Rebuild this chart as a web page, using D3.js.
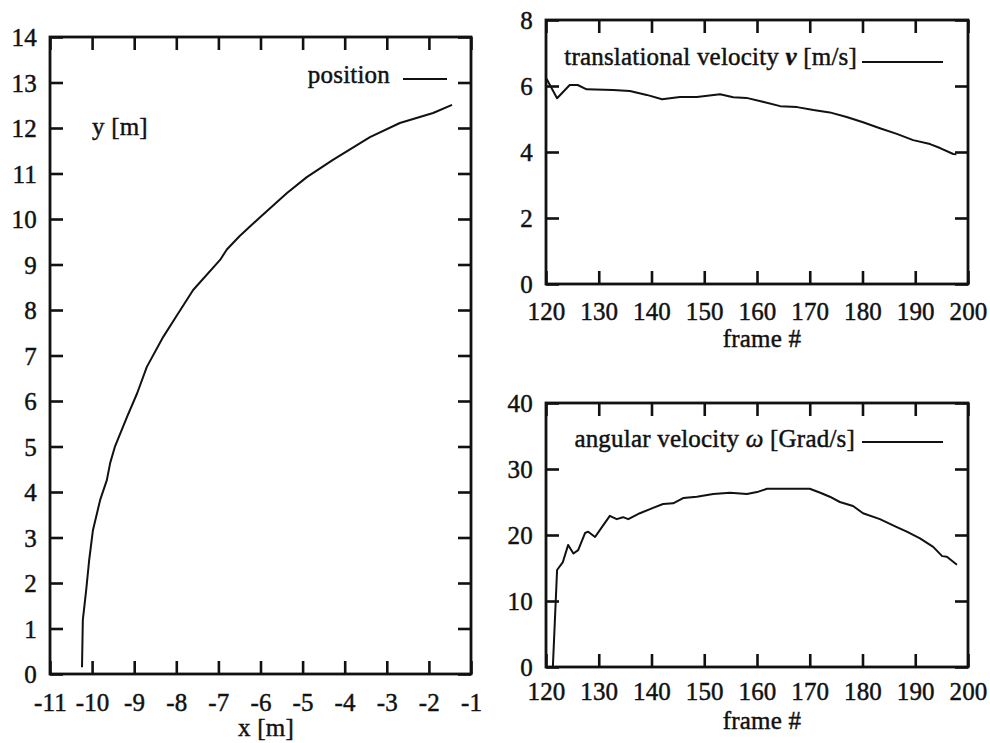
<!DOCTYPE html>
<html><head><meta charset="utf-8">
<script src="https://cdn.jsdelivr.net/npm/d3@7"></script>
<style>
body{margin:0;background:#fff;}
svg text{font-family:"Liberation Serif","Times New Roman",serif;fill:#111;stroke:#111;stroke-width:0.45px;letter-spacing:0.2px;}
</style></head>
<body><svg id="c" width="990" height="743"></svg>
<script>
// ---- data ----
const posX = [-10.24,-10.22,-10.14,-10.07,-9.98,-9.81,-9.65,-9.57,-9.46,-9.17,-8.93,-8.70,-8.31,-7.98,-7.60,-6.96,-6.80,-6.50,-6.01,-5.37,-4.90,-4.28,-3.40,-2.69,-1.90,-1.45];
const posY = [0.15,1.19,1.85,2.5,3.16,3.82,4.26,4.64,4.99,5.65,6.17,6.75,7.41,7.89,8.44,9.10,9.33,9.62,10.04,10.57,10.92,11.30,11.80,12.11,12.33,12.51];

const transFrame = [120.1,122.1,124.5,126.0,127.7,132.7,135.9,139.1,142.0,145.4,148.6,153.0,155.5,158.0,161.1,164.4,167.6,170.7,173.8,177.0,180.1,183.3,186.5,189.6,192.8,194.7,197.2,197.8];
const transV = [6.22,5.63,6.03,6.03,5.90,5.88,5.85,5.73,5.60,5.67,5.67,5.75,5.66,5.64,5.52,5.39,5.36,5.27,5.20,5.06,4.90,4.72,4.55,4.36,4.24,4.12,3.94,3.93];

const angFrame = [121.3,122.1,123.2,124.2,125.2,126.1,127.4,128.0,129.3,130.6,132.1,133.4,134.6,135.6,137.8,140.3,142.2,144.1,146.0,148.6,151.7,154.9,158.1,160.0,161.9,164.4,170.0,172.0,173.8,175.7,178.2,180.1,183.3,186.5,188.4,190.9,193.4,195.1,196.0,197.9];
const angW = [0,14.7,15.9,18.5,17.2,17.7,20.3,20.5,19.7,21.2,22.9,22.4,22.7,22.4,23.3,24.1,24.7,24.8,25.6,25.8,26.2,26.4,26.2,26.5,27.0,27.0,27.0,26.4,25.8,25.0,24.4,23.3,22.4,21.2,20.5,19.5,18.2,16.8,16.7,15.5];

const posXTicks = [-11,-10,-9,-8,-7,-6,-5,-4,-3,-2,-1];
const posYTicks = [0,1,2,3,4,5,6,7,8,9,10,11,12,13,14];
const frameTicks = [120,130,140,150,160,170,180,190,200];
const vTicks = [0,2,4,6,8];
const wTicks = [0,10,20,30,40];

const svg = d3.select("#c");
const FS = 25;
const fmt = d => String(d); // plain hyphen minus as in the original

function panel(o){
  const g = svg.append("g");
  const x = d3.scaleLinear().domain(o.xd).range([o.l,o.r]);
  const y = d3.scaleLinear().domain(o.yd).range([o.b,o.t]);
  g.append("path").datum(o.xs.map((v,i)=>[v,o.ys[i]]))
    .attr("fill","none").attr("stroke","#111").attr("stroke-width",2)
    .attr("stroke-linejoin","round")
    .attr("d",d3.line().x(d=>x(d[0])).y(d=>y(d[1])));
  const tl = 13;
  const ax = g.append("g").attr("transform",`translate(0,${o.b})`)
    .call(d3.axisBottom(x).tickValues(o.xt).tickSize(-tl).tickPadding(0).tickFormat(fmt));
  ax.selectAll("text").attr("dy",null).attr("y",o.xlab).attr("font-size",FS);
  const axT = g.append("g").attr("transform",`translate(0,${o.t})`)
    .call(d3.axisTop(x).tickValues(o.xt).tickSize(-tl).tickFormat(""));
  const ay = g.append("g").attr("transform",`translate(${o.l},0)`)
    .call(d3.axisLeft(y).tickValues(o.yt).tickSize(-tl).tickPadding(13).tickFormat(fmt));
  ay.selectAll("text").attr("dy","0.34em").attr("font-size",FS);
  const ayR = g.append("g").attr("transform",`translate(${o.r},0)`)
    .call(d3.axisRight(y).tickValues(o.yt).tickSize(-tl).tickFormat(""));
  [ax,axT,ay,ayR].forEach(a=>{
    a.select(".domain").remove();
    a.selectAll("line").attr("stroke","#111").attr("stroke-width",2.6);
  });
  g.append("rect").attr("x",o.l).attr("y",o.t).attr("width",o.r-o.l).attr("height",o.b-o.t)
    .attr("fill","none").attr("stroke","#111").attr("stroke-width",2.8);
  return {g,x,y};
}

// Left: position
panel({l:50,r:471,t:37,b:674,xd:[-11,-1],yd:[0,14],xs:posX,ys:posY,xt:posXTicks,yt:posYTicks,xlab:37});
svg.append("text").attr("x",266).attr("y",736).attr("text-anchor","middle").attr("font-size",FS).text("x [m]");
svg.append("text").attr("x",92).attr("y",135).attr("font-size",FS).text("y [m]");
svg.append("text").attr("x",390).attr("y",83).attr("text-anchor","end").attr("font-size",FS).text("position");
svg.append("line").attr("x1",403).attr("x2",447).attr("y1",79).attr("y2",79).attr("stroke","#111").attr("stroke-width",2);

// Top right: translational velocity
panel({l:546,r:968,t:20,b:284,xd:[120,200],yd:[0,8],xs:transFrame,ys:transV,xt:frameTicks,yt:vTicks,xlab:36});
svg.append("text").attr("x",762).attr("y",347).attr("text-anchor","middle").attr("font-size",FS).text("frame #");
const t2 = svg.append("text").attr("x",857).attr("y",65).attr("text-anchor","end").attr("font-size",FS);
t2.append("tspan").text("translational velocity ");
t2.append("tspan").attr("font-weight","bold").attr("font-style","italic").text("v");
t2.append("tspan").text(" [m/s]");
svg.append("line").attr("x1",862).attr("x2",943).attr("y1",62).attr("y2",62).attr("stroke","#111").attr("stroke-width",2);

// Bottom right: angular velocity
panel({l:546,r:968,t:403,b:667,xd:[120,200],yd:[0,40],xs:angFrame,ys:angW,xt:frameTicks,yt:wTicks,xlab:33});
svg.append("text").attr("x",762).attr("y",729).attr("text-anchor","middle").attr("font-size",FS).text("frame #");
const t3 = svg.append("text").attr("x",855).attr("y",447).attr("text-anchor","end").attr("font-size",FS);
t3.append("tspan").text("angular velocity ");
t3.append("tspan").attr("font-style","italic").text("ω");
t3.append("tspan").text(" [Grad/s]");
svg.append("line").attr("x1",862).attr("x2",943).attr("y1",442).attr("y2",442).attr("stroke","#111").attr("stroke-width",2);
</script></body></html>
